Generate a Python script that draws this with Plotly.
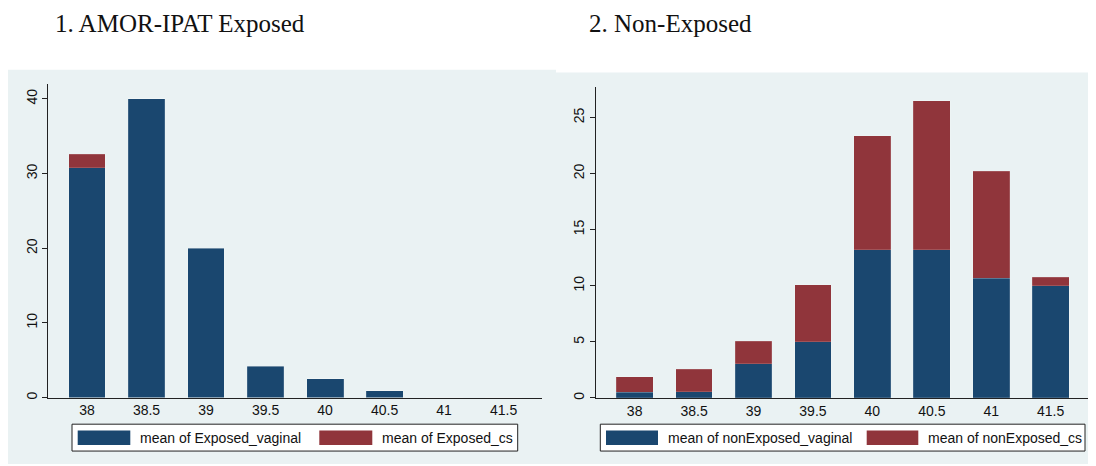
import plotly.graph_objects as go

# ---------------- data ----------------
categories = ["38", "38.5", "39", "39.5", "40", "40.5", "41", "41.5"]

exposed_vaginal = [30.8, 40.0, 20.0, 4.2, 2.5, 0.9, 0.0, 0.0]
exposed_cs = [1.8, 0.0, 0.0, 0.0, 0.0, 0.0, 0.0, 0.0]

nonexposed_vaginal = [0.5, 0.55, 3.05, 5.0, 13.2, 13.2, 10.65, 10.0]
nonexposed_cs = [1.4, 2.0, 2.0, 5.1, 10.15, 13.3, 9.55, 0.75]

left_ticks = [0, 10, 20, 30, 40]
right_ticks = [0, 5, 10, 15, 20, 25]

titles = ["1. AMOR-IPAT Exposed", "2. Non-Exposed"]
left_names = ["mean of Exposed_vaginal", "mean of Exposed_cs"]
right_names = ["mean of nonExposed_vaginal", "mean of nonExposed_cs"]

NAVY = "#1a476f"
MAROON = "#90353b"
BG = "#eaf2f3"

# page body has an 8px margin; the figure is sized to fill the rest of the window
OX, OY = 8, 8
W, H = 1096 - OX, 466 - OY


def fx(p):
    return (p - OX) / W


def fy(p):
    return 1 - (p - OY) / H


fig = go.Figure()

bar_line = dict(width=0.6, color="rgba(255,255,255,0.25)")
fig.add_bar(x=categories, y=exposed_vaginal, marker_color=NAVY, marker_line=bar_line,
            name=left_names[0], xaxis="x", yaxis="y", showlegend=False)
fig.add_bar(x=categories, y=exposed_cs, marker_color=MAROON, marker_line=bar_line,
            name=left_names[1], xaxis="x", yaxis="y", showlegend=False)
fig.add_bar(x=categories, y=nonexposed_vaginal, marker_color=NAVY, marker_line=bar_line,
            name=right_names[0], xaxis="x2", yaxis="y2", showlegend=False)
fig.add_bar(x=categories, y=nonexposed_cs, marker_color=MAROON, marker_line=bar_line,
            name=right_names[1], xaxis="x2", yaxis="y2", showlegend=False)

tickfont = dict(family="Liberation Sans, Arial, sans-serif", size=14, color="#111111")

xcommon = dict(type="category", range=[-0.65, 7.65], showline=True, linecolor="#222222",
               linewidth=1, ticks="", showgrid=False, tickfont=tickfont, zeroline=False,
               fixedrange=True)
ycommon = dict(showline=True, linecolor="#222222", linewidth=1, ticks="outside", ticklen=5,
               tickcolor="#222222", showgrid=True, gridcolor=BG, gridwidth=1,
               tickangle=-90, tickfont=tickfont, zeroline=False, fixedrange=True)

fig.update_layout(
    width=W, height=H,
    margin=dict(l=0, r=0, t=0, b=0),
    paper_bgcolor="white",
    plot_bgcolor="white",
    barmode="stack",
    bargap=0.38,
    showlegend=False,
    xaxis=dict(domain=[fx(48.3), fx(542.3)], anchor="y", **xcommon),
    yaxis=dict(domain=[fy(399.3), fy(84)], anchor="x", range=[0, (399.3 - 84) / 7.5],
               tickvals=left_ticks, **ycommon),
    xaxis2=dict(domain=[fx(596), fx(1089.3)], anchor="y2", **xcommon),
    yaxis2=dict(domain=[fy(399.7), fy(87.3)], anchor="x2", range=[0, (399.7 - 87.3) / 11.27],
                tickvals=right_ticks, **ycommon),
)

shapes = []
# panel backgrounds
shapes.append(dict(type="rect", xref="paper", yref="paper", x0=fx(8), x1=fx(556),
                   y0=fy(466), y1=fy(70), fillcolor=BG, line_width=0, layer="below"))
shapes.append(dict(type="rect", xref="paper", yref="paper", x0=fx(556), x1=fx(1096),
                   y0=fy(466), y1=fy(72.7), fillcolor=BG, line_width=0, layer="below"))

# custom legends
legend_specs = [
    dict(box=(72, 517.7), sw=[(77.7, 130.3), (319.3, 372.3)], tx=[138.3, 380], names=left_names),
    dict(box=(600.3, 1085), sw=[(606, 658), (866.7, 918.3)], tx=[666, 926], names=right_names),
]
annotations = []
for spec in legend_specs:
    shapes.append(dict(type="rect", xref="paper", yref="paper", x0=fx(spec["box"][0]),
                       x1=fx(spec["box"][1]), y0=fy(453), y1=fy(426), fillcolor="white",
                       line=dict(color="#222222", width=1), layer="above"))
    for (a, b), col in zip(spec["sw"], [NAVY, MAROON]):
        shapes.append(dict(type="rect", xref="paper", yref="paper", x0=fx(a), x1=fx(b),
                           y0=fy(447), y1=fy(432.3), fillcolor=col, line_width=0, layer="above"))
    for t, name in zip(spec["tx"], spec["names"]):
        annotations.append(dict(text=name, xref="paper", yref="paper", x=fx(t), y=fy(439.7),
                                xanchor="left", yanchor="middle", showarrow=False,
                                font=dict(family="Liberation Sans, Arial, sans-serif", size=14,
                                          color="#111111")))

# panel titles
for t, xpos in zip(titles, [53, 586.7]):
    annotations.append(dict(text=t, xref="paper", yref="paper", x=fx(xpos), y=fy(23.5),
                            xanchor="left", yanchor="middle", showarrow=False,
                            font=dict(family="Liberation Serif, Times New Roman, serif", size=25,
                                      color="#111111")))

fig.update_layout(shapes=shapes, annotations=annotations)

fig.write_html("out.html")
